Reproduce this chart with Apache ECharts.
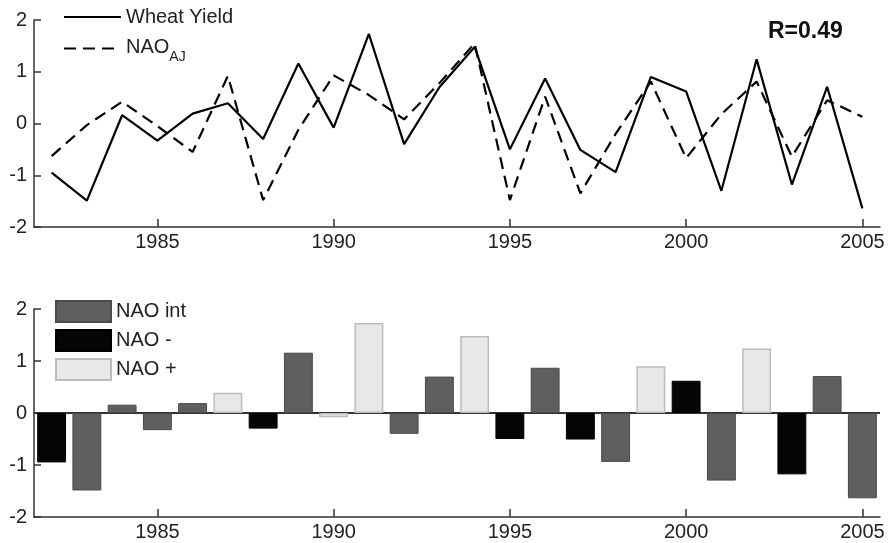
<!DOCTYPE html>
<html>
<head>
<meta charset="utf-8">
<script src="https://cdn.jsdelivr.net/npm/echarts@6/dist/echarts.min.js"></script>
<style>
html,body{margin:0;padding:0;background:#fff;}
#chart{width:891px;height:543px;}
</style>
</head>
<body>
<div id="chart"></div>
<script>
// ---- data ----
var years = ['1982','1983','1984','1985','1986','1987','1988','1989','1990','1991','1992','1993','1994','1995','1996','1997','1998','1999','2000','2001','2002','2003','2004','2005'];
var wheatYield = [-0.95,-1.49,0.16,-0.33,0.19,0.39,-0.30,1.16,-0.08,1.73,-0.40,0.70,1.48,-0.50,0.87,-0.51,-0.94,0.90,0.62,-1.30,1.24,-1.18,0.71,-1.64];
var naoAJ = [-0.63,-0.03,0.42,-0.05,-0.55,0.92,-1.48,-0.12,0.93,0.55,0.08,0.78,1.55,-1.48,0.52,-1.35,-0.20,0.81,-0.67,0.18,0.81,-0.64,0.45,0.13];
var naoPhase = ['neg','int','int','int','int','pos','neg','int','pos','pos','int','int','pos','neg','int','neg','int','pos','neg','int','pos','neg','int','int'];
var yTicks = [-2,-1,0,1,2];
var xTickYears = ['1985','1990','1995','2000','2005'];
var corrLabel = 'R=0.49';

function phaseValues(p){
  return wheatYield.map(function(v,i){ return naoPhase[i]===p ? v : '-'; });
}

var TXT = '#222';
var AX = '#333';
var FONT = 'Liberation Sans, Arial, sans-serif';

function isTick(i){ return xTickYears.indexOf(years[i]) >= 0; }

function xAxisFor(gi){
  return {
    type:'category', gridIndex:gi, data:years, boundaryGap:true,
    axisLine:{show:true, onZero:false, lineStyle:{color:AX, width:1.5}},
    axisTick:{show:true, inside:true, length:8, alignWithLabel:true, interval:function(i){return isTick(i);}, lineStyle:{color:AX,width:1.5}},
    axisLabel:{interval:function(i){return isTick(i);}, color:TXT, fontSize:20, fontFamily:FONT, margin:5},
    splitLine:{show:false}
  };
}
function yAxisFor(gi){
  return {
    type:'value', gridIndex:gi, min:yTicks[0], max:yTicks[yTicks.length-1], interval:1,
    axisLine:{show:true, lineStyle:{color:AX, width:1.5}},
    axisTick:{show:true, inside:true, length:7, lineStyle:{color:AX,width:1.5}},
    axisLabel:{color:TXT, fontSize:20, fontFamily:FONT, margin:7},
    splitLine:{show:false}
  };
}

var chart = echarts.init(document.getElementById('chart'), null, {renderer:'canvas'});
chart.setOption({
  backgroundColor:'#fff',
  animation:false,
  textStyle:{fontFamily:FONT},
  title:{
    text:corrLabel, left:768, top:20, padding:0,
    textStyle:{fontSize:23, fontWeight:'bold', color:'#111', fontFamily:FONT}
  },
  grid:[
    {left:34, right:11, top:20, height:207},
    {left:34, right:11, top:309, height:208}
  ],
  xAxis:[xAxisFor(0), xAxisFor(1)],
  yAxis:[yAxisFor(0), yAxisFor(1)],
  legend:[
    {
      data:['Wheat Yield','NAO_AJ'], orient:'vertical', left:63, top:6,
      itemWidth:57, itemHeight:14, itemGap:5, padding:0,
      itemStyle:{opacity:0},
      textStyle:{color:TXT, fontSize:20, lineHeight:22, fontFamily:FONT,
        rich:{
          a:{fontSize:20, lineHeight:22, verticalAlign:'top', color:TXT, fontFamily:FONT},
          b:{fontSize:14, lineHeight:14, padding:[17,0,0,0], color:TXT, fontFamily:FONT}
        }
      },
      formatter:function(name){
        if(name==='NAO_AJ') return '{a|NAO}{b|AJ}';
        return name;
      }
    },
    {
      data:['NAO int','NAO -','NAO +'], orient:'vertical', left:55, top:300,
      itemWidth:55, itemHeight:21, itemGap:6, padding:0, icon:'rect',
      textStyle:{color:TXT, fontSize:20, lineHeight:21, fontFamily:FONT}
    }
  ],
  series:[
    {
      name:'Wheat Yield', type:'line', xAxisIndex:0, yAxisIndex:0, data:wheatYield,
      symbol:'none', showSymbol:false, lineStyle:{color:'#000', width:2.2}, itemStyle:{color:'#000'}
    },
    {
      name:'NAO_AJ', type:'line', xAxisIndex:0, yAxisIndex:0, data:naoAJ,
      symbol:'none', showSymbol:false, lineStyle:{color:'#000', width:2.2, type:[12,7]}, itemStyle:{color:'#000'}
    },
    {
      name:'NAO int', type:'bar', xAxisIndex:1, yAxisIndex:1, data:phaseValues('int'),
      barWidth:'82%', barGap:'-100%',
      itemStyle:{color:'#5f5f5f', borderColor:'#4a4a4a', borderWidth:1},
      markLine:{
        silent:true, symbol:'none', z:1, animation:false,
        label:{show:false},
        lineStyle:{color:'#333', width:2, type:'solid'},
        data:[{yAxis:0}]
      }
    },
    {
      name:'NAO -', type:'bar', xAxisIndex:1, yAxisIndex:1, data:phaseValues('neg'),
      barWidth:'82%', barGap:'-100%',
      itemStyle:{color:'#050505', borderColor:'#000', borderWidth:1}
    },
    {
      name:'NAO +', type:'bar', xAxisIndex:1, yAxisIndex:1, data:phaseValues('pos'),
      barWidth:'82%', barGap:'-100%',
      itemStyle:{color:'#e8e8e8', borderColor:'#bcbcbc', borderWidth:1.5}
    }
  ]
});
</script>
</body>
</html>
